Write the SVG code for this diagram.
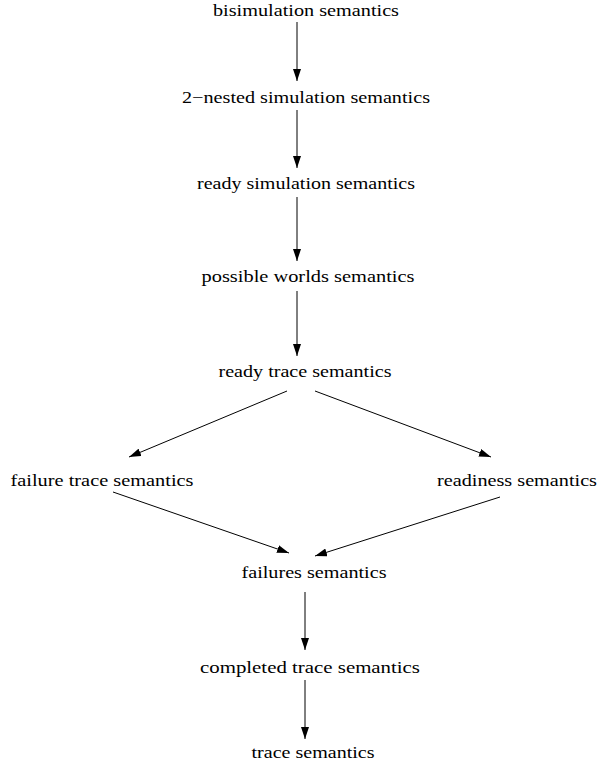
<svg xmlns="http://www.w3.org/2000/svg" width="597" height="767" viewBox="0 0 597 767">
<defs>
<marker id="ah" markerUnits="userSpaceOnUse" markerWidth="12" markerHeight="8" refX="12" refY="4" orient="auto">
<path d="M0,0 L12,4 L0,8 Z" fill="#000"/>
</marker>
<style>
text{font-family:"Liberation Serif","Times New Roman",serif;font-size:17px;fill:#000;text-anchor:middle}
.c line{stroke:#000;stroke-width:1;marker-end:url(#ah)}
</style>
</defs>
<rect width="597" height="767" fill="#fff"/>
<g id="n1"><text x="306" y="16" textLength="186" lengthAdjust="spacingAndGlyphs">bisimulation semantics</text></g>
<g id="n2"><text x="306" y="103" textLength="248" lengthAdjust="spacingAndGlyphs">2−nested simulation semantics</text></g>
<g id="n3"><text x="306" y="189" textLength="218" lengthAdjust="spacingAndGlyphs">ready simulation semantics</text></g>
<g id="n4"><text x="308" y="282" textLength="213" lengthAdjust="spacingAndGlyphs">possible worlds semantics</text></g>
<g id="n5"><text x="305" y="377" textLength="173" lengthAdjust="spacingAndGlyphs">ready trace semantics</text></g>
<g id="n6"><text x="102" y="486" textLength="183" lengthAdjust="spacingAndGlyphs">failure trace semantics</text></g>
<g id="n7"><text x="517" y="486" textLength="160" lengthAdjust="spacingAndGlyphs">readiness semantics</text></g>
<g id="n8"><text x="314" y="578" textLength="145" lengthAdjust="spacingAndGlyphs">failures semantics</text></g>
<g id="n9"><text x="310" y="673" textLength="220" lengthAdjust="spacingAndGlyphs">completed trace semantics</text></g>
<g id="n10"><text x="313" y="758" textLength="123" lengthAdjust="spacingAndGlyphs">trace semantics</text></g>
<g class="c" id="connectors">
<line x1="297" y1="22" x2="297" y2="81"/>
<line x1="297" y1="110" x2="297" y2="168"/>
<line x1="297" y1="197" x2="297" y2="261"/>
<line x1="297" y1="291" x2="297" y2="356"/>
<line x1="287" y1="391" x2="129" y2="457"/>
<line x1="315" y1="391" x2="491" y2="457"/>
<line x1="113" y1="492" x2="289" y2="553"/>
<line x1="500" y1="497" x2="315" y2="556"/>
<line x1="305" y1="592" x2="305" y2="650"/>
<line x1="305" y1="680" x2="305" y2="739"/>
</g>
</svg>
